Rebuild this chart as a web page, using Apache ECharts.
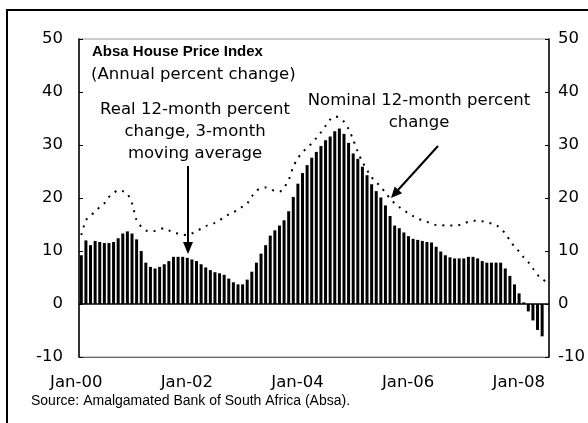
<!DOCTYPE html>
<html>
<head>
<meta charset="utf-8">
<title>Absa House Price Index</title>
<script src="https://cdn.jsdelivr.net/npm/echarts@6/dist/echarts.min.js"></script>
<style>
  html, body { margin: 0; padding: 0; background: #fff; }
  #chart { width: 588px; height: 423px; }
</style>
</head>
<body>
<div id="chart"></div>
<script>
// monthly categories, Jan-00 .. Jun-08
const months = [
  'Jan-00','Feb-00','Mar-00','Apr-00','May-00','Jun-00','Jul-00','Aug-00','Sep-00','Oct-00','Nov-00','Dec-00',
  'Jan-01','Feb-01','Mar-01','Apr-01','May-01','Jun-01','Jul-01','Aug-01','Sep-01','Oct-01','Nov-01','Dec-01',
  'Jan-02','Feb-02','Mar-02','Apr-02','May-02','Jun-02','Jul-02','Aug-02','Sep-02','Oct-02','Nov-02','Dec-02',
  'Jan-03','Feb-03','Mar-03','Apr-03','May-03','Jun-03','Jul-03','Aug-03','Sep-03','Oct-03','Nov-03','Dec-03',
  'Jan-04','Feb-04','Mar-04','Apr-04','May-04','Jun-04','Jul-04','Aug-04','Sep-04','Oct-04','Nov-04','Dec-04',
  'Jan-05','Feb-05','Mar-05','Apr-05','May-05','Jun-05','Jul-05','Aug-05','Sep-05','Oct-05','Nov-05','Dec-05',
  'Jan-06','Feb-06','Mar-06','Apr-06','May-06','Jun-06','Jul-06','Aug-06','Sep-06','Oct-06','Nov-06','Dec-06',
  'Jan-07','Feb-07','Mar-07','Apr-07','May-07','Jun-07','Jul-07','Aug-07','Sep-07','Oct-07','Nov-07','Dec-07',
  'Jan-08','Feb-08','Mar-08','Apr-08','May-08','Jun-08'
];

const tickLabels = ['Jan-00', 'Jan-02', 'Jan-04', 'Jan-06', 'Jan-08'];

// real 12-month % change, 3-month moving average (bars)
const realChange = [
  9.2, 12.0, 11.1, 11.9, 11.7, 11.5, 11.5, 11.7, 12.4, 13.3, 13.7, 13.3,
  12.2, 10.0, 7.8, 7.0, 6.7, 7.0, 7.5, 8.1, 8.9, 8.9, 8.9, 8.7,
  8.4, 8.1, 7.5, 6.9, 6.4, 6.0, 5.8, 5.5, 4.8, 4.1, 3.7, 3.7,
  4.6, 6.1, 7.8, 9.5, 11.1, 12.9, 13.9, 14.8, 15.8, 17.5, 20.2, 22.7,
  24.7, 26.2, 27.6, 28.7, 29.8, 30.9, 31.6, 32.6, 33.1, 32.1, 30.4, 28.4,
  27.4, 25.9, 24.3, 22.6, 21.3, 20.1, 18.6, 16.6, 14.8, 14.3, 13.5, 12.8,
  12.3, 12.1, 11.9, 11.7, 11.6, 10.8, 9.9, 9.2, 8.8, 8.6, 8.6, 8.6,
  8.9, 8.9, 8.6, 8.1, 7.8, 7.8, 7.8, 7.8, 6.7, 5.3, 3.7, 2.0,
  0.3, -1.4, -3.1, -4.9, -6.1, null
];

// nominal 12-month % change (dotted line)
const nominalChange = [
  13.0, 15.8, 16.7, 17.4, 18.3, 19.0, 20.2, 20.9, 21.5, 21.3, 20.8, 19.0,
  15.8, 14.6, 13.9, 13.7, 13.8, 14.1, 14.3, 13.9, 13.5, 13.3, 13.1, 13.0,
  13.3, 13.8, 14.2, 14.7, 15.0, 15.3, 15.8, 16.4, 16.9, 17.3, 17.8, 18.4,
  19.0, 20.3, 21.4, 21.8, 22.0, 21.7, 21.3, 21.2, 22.0, 23.4, 25.9, 27.5,
  28.6, 29.5, 30.3, 31.3, 32.4, 33.6, 34.8, 35.4, 35.1, 34.4, 33.0, 31.0,
  28.7, 26.8, 25.3, 23.9, 23.0, 22.1, 21.0, 19.9, 19.0, 18.3, 17.7, 17.1,
  16.6, 16.1, 15.8, 15.5, 15.2, 14.9, 14.9, 14.8, 14.8, 14.8, 14.9, 15.2,
  15.5, 15.7, 15.7, 15.6, 15.4, 15.2, 14.9, 14.2, 13.3, 12.0, 10.8, 9.9,
  8.8, 7.9, 6.7, 5.5, 4.8, 4.0
];

const FONT = '"DejaVu Sans", sans-serif';
const FONT_ARIAL = '"Liberation Sans", Arial, sans-serif';

const chart = echarts.init(document.getElementById('chart'), null, { renderer: 'canvas' });

const yAxisBase = {
  type: 'value',
  min: -10,
  max: 50,
  interval: 10,
  axisLine: { show: true, lineStyle: { color: '#000', width: 1.5 } },
  axisTick: { show: true, inside: true, length: 4, lineStyle: { color: '#000' } },
  splitLine: { show: false },
  axisLabel: { color: '#000', fontSize: 16.5, fontFamily: FONT }
};

const option = {
  animation: false,
  backgroundColor: '#fff',
  grid: {
    show: true,
    left: 79,
    right: 37,
    top: 39,
    bottom: 66,
    borderColor: '#999',
    borderWidth: 1
  },
  xAxis: {
    type: 'category',
    data: months,
    axisLine: { show: true, onZero: false, lineStyle: { color: '#666', width: 1 } },
    axisTick: { show: false },
    axisLabel: {
      interval: (i, v) => tickLabels.includes(v),
      color: '#000',
      fontSize: 16.5,
      fontFamily: FONT,
      margin: 17,
      padding: [0, 10, 0, 0]
    }
  },
  yAxis: [
    Object.assign({}, yAxisBase, { position: 'left', axisLabel: Object.assign({}, yAxisBase.axisLabel, { margin: 16 }) }),
    Object.assign({}, yAxisBase, { position: 'right', axisLabel: Object.assign({}, yAxisBase.axisLabel, { margin: 9 }) })
  ],
  series: [
    {
      name: 'Real',
      type: 'bar',
      data: realChange,
      barCategoryGap: '35%',
      itemStyle: { color: '#000' },
      markLine: {
        silent: true,
        symbol: 'none',
        label: { show: false },
        lineStyle: { color: '#000', width: 1.5, type: 'solid' },
        data: [{ yAxis: 0 }]
      }
    },
    {
      name: 'Nominal',
      type: 'line',
      data: nominalChange,
      showSymbol: false,
      smooth: 0.3,
      lineStyle: { color: '#000', width: 2, type: [2, 6] }
    }
  ],
  graphic: [
    // outer frame
    {
      type: 'polyline',
      shape: { points: [[7, 423], [7, 10], [588, 10]] },
      style: { stroke: '#000', lineWidth: 2, fill: null }
    },
    {
      type: 'text', x: 92, y: 52,
      style: { text: 'Absa House Price Index', fontSize: 15, fontWeight: 'bold', fontFamily: FONT_ARIAL, fill: '#000', align: 'left', verticalAlign: 'middle' }
    },
    {
      type: 'text', x: 91, y: 75,
      style: { text: '(Annual percent change)', fontSize: 16.5, fontFamily: FONT, fill: '#000', align: 'left', verticalAlign: 'middle' }
    },
    {
      type: 'text', x: 195, y: 132,
      style: { text: 'Real 12-month percent\nchange, 3-month\nmoving average', fontSize: 16.5, lineHeight: 22, fontFamily: FONT, fill: '#000', align: 'center', verticalAlign: 'middle' }
    },
    {
      type: 'text', x: 419, y: 112,
      style: { text: 'Nominal 12-month percent\nchange', fontSize: 16.5, lineHeight: 22, fontFamily: FONT, fill: '#000', align: 'center', verticalAlign: 'middle' }
    },
    // arrow to the bars
    { type: 'line', shape: { x1: 188, y1: 166, x2: 188, y2: 244 }, style: { stroke: '#000', lineWidth: 2 } },
    { type: 'polygon', shape: { points: [[183, 242], [193, 242], [188, 254]] }, style: { fill: '#000' } },
    // arrow to the nominal line
    { type: 'line', shape: { x1: 438, y1: 146, x2: 398, y2: 190 }, style: { stroke: '#000', lineWidth: 2 } },
    { type: 'polygon', shape: { points: [[402.1, 193.2], [394.7, 186.4], [391, 198]] }, style: { fill: '#000' } },
    {
      type: 'text', x: 31, y: 401,
      style: { text: 'Source: Amalgamated Bank of South Africa (Absa).', fontSize: 14, fontFamily: FONT_ARIAL, fill: '#000', align: 'left', verticalAlign: 'middle' }
    }
  ]
};

chart.setOption(option);
</script>
</body>
</html>
